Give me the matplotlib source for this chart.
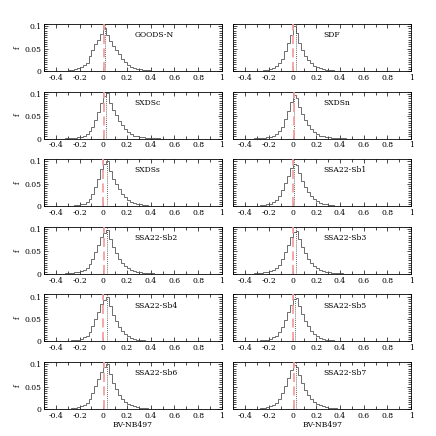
import numpy as np
import matplotlib
matplotlib.use("Agg")
import matplotlib.pyplot as plt
from matplotlib.ticker import MultipleLocator, FormatStrFormatter

plt.rcParams["font.family"] = "DejaVu Serif"
plt.rcParams["font.size"] = 5.5

# histogram bins: start at -0.4, width 0.025, 40 bins
bin_start = -0.4
bin_width = 0.025

fields = ["GOODS-N", "SDF", "SXDSc", "SXDSn", "SXDSs", "SSA22-Sb1",
          "SSA22-Sb2", "SSA22-Sb3", "SSA22-Sb4", "SSA22-Sb5", "SSA22-Sb6", "SSA22-Sb7"]

# red dashed / black dotted line positions per field
red_pos = [0.008, 0.000, 0.005, 0.010, 0.000, 0.000,
           0.005, 0.005, 0.000, 0.005, 0.005, 0.010]
dot_pos = [0.012, 0.030, 0.025, 0.012, 0.030, 0.012,
           0.030, 0.025, 0.035, 0.020, 0.035, 0.030]

goods_n = [0, 0, 0.0005, 0.001, 0.002, 0.003, 0.004, 0.006, 0.009, 0.013,
           0.019, 0.033, 0.048, 0.060, 0.070, 0.082,
           0.095, 0.080, 0.068, 0.057, 0.048, 0.038, 0.028, 0.020, 0.014, 0.010,
           0.007, 0.005, 0.004, 0.003, 0.002, 0.0015, 0.001, 0.001, 0.0005, 0.0005, 0, 0, 0, 0]
sdf = [0, 0, 0, 0.0005, 0.001, 0.001, 0.002, 0.003, 0.004, 0.006,
       0.012, 0.018, 0.028, 0.045, 0.062, 0.080,
       0.100, 0.086, 0.062, 0.047, 0.034, 0.024, 0.017, 0.012, 0.008, 0.006,
       0.004, 0.003, 0.002, 0.0015, 0.001, 0.001, 0.0005, 0.0005, 0, 0, 0, 0, 0, 0]
sxdsc = [0, 0, 0, 0.0005, 0.001, 0.001, 0.002, 0.003, 0.004, 0.006,
         0.010, 0.016, 0.026, 0.042, 0.060, 0.080,
         0.094, 0.101, 0.080, 0.063, 0.052, 0.040, 0.030, 0.022, 0.015, 0.010,
         0.007, 0.005, 0.004, 0.003, 0.002, 0.0015, 0.001, 0.0005, 0.0005, 0, 0, 0, 0, 0]
sxdsn = [0, 0, 0, 0.0005, 0.001, 0.001, 0.002, 0.003, 0.004, 0.006,
         0.011, 0.017, 0.027, 0.044, 0.062, 0.082,
         0.097, 0.090, 0.070, 0.054, 0.042, 0.030, 0.021, 0.015, 0.010, 0.007,
         0.005, 0.004, 0.003, 0.002, 0.0015, 0.001, 0.0005, 0.0005, 0, 0, 0, 0, 0, 0]
sxdss = [0, 0, 0.0005, 0.0005, 0.001, 0.001, 0.002, 0.003, 0.004, 0.006,
         0.010, 0.016, 0.027, 0.043, 0.061, 0.082,
         0.095, 0.100, 0.078, 0.061, 0.050, 0.038, 0.028, 0.020, 0.014, 0.010,
         0.007, 0.005, 0.004, 0.003, 0.002, 0.0015, 0.001, 0.001, 0.0005, 0.0005, 0, 0, 0, 0]
sb1 = [0, 0, 0.0005, 0.001, 0.001, 0.002, 0.003, 0.004, 0.006, 0.009,
       0.014, 0.022, 0.036, 0.052, 0.068, 0.086,
       0.094, 0.092, 0.074, 0.056, 0.043, 0.031, 0.022, 0.016, 0.011, 0.008,
       0.006, 0.004, 0.003, 0.002, 0.0015, 0.001, 0.001, 0.0005, 0.0005, 0, 0, 0, 0, 0]
sb2 = [0, 0, 0.0005, 0.001, 0.001, 0.002, 0.003, 0.004, 0.006, 0.009,
       0.013, 0.021, 0.033, 0.049, 0.065, 0.082,
       0.092, 0.098, 0.077, 0.059, 0.046, 0.034, 0.025, 0.018, 0.012, 0.008,
       0.006, 0.004, 0.003, 0.002, 0.0015, 0.001, 0.001, 0.0005, 0.0005, 0, 0, 0, 0, 0]
sb3 = [0, 0, 0.0005, 0.001, 0.001, 0.002, 0.003, 0.004, 0.006, 0.009,
       0.013, 0.020, 0.032, 0.048, 0.064, 0.081,
       0.093, 0.096, 0.078, 0.060, 0.046, 0.034, 0.025, 0.018, 0.012, 0.009,
       0.006, 0.004, 0.003, 0.002, 0.0015, 0.001, 0.001, 0.0005, 0.0005, 0, 0, 0, 0, 0]
sb4 = [0, 0, 0.0005, 0.001, 0.001, 0.002, 0.003, 0.004, 0.006, 0.009,
       0.013, 0.021, 0.034, 0.050, 0.066, 0.083,
       0.092, 0.099, 0.078, 0.059, 0.045, 0.033, 0.024, 0.017, 0.012, 0.008,
       0.006, 0.004, 0.003, 0.002, 0.0015, 0.001, 0.001, 0.0005, 0.0005, 0, 0, 0, 0, 0]
sb5 = [0, 0, 0.0005, 0.001, 0.001, 0.002, 0.003, 0.004, 0.006, 0.009,
       0.013, 0.020, 0.032, 0.048, 0.065, 0.082,
       0.094, 0.097, 0.078, 0.060, 0.046, 0.034, 0.024, 0.017, 0.012, 0.008,
       0.006, 0.004, 0.003, 0.002, 0.0015, 0.001, 0.001, 0.0005, 0.0005, 0, 0, 0, 0, 0]
sb6 = [0, 0, 0.0005, 0.001, 0.001, 0.002, 0.003, 0.004, 0.006, 0.009,
       0.014, 0.022, 0.035, 0.051, 0.067, 0.083,
       0.093, 0.100, 0.077, 0.058, 0.044, 0.032, 0.023, 0.016, 0.011, 0.008,
       0.006, 0.004, 0.003, 0.002, 0.0015, 0.001, 0.001, 0.0005, 0.0005, 0, 0, 0, 0, 0]
sb7 = [0, 0, 0.0005, 0.001, 0.001, 0.002, 0.003, 0.004, 0.006, 0.009,
       0.014, 0.022, 0.035, 0.052, 0.069, 0.086,
       0.097, 0.094, 0.075, 0.057, 0.043, 0.031, 0.022, 0.016, 0.011, 0.008,
       0.006, 0.004, 0.003, 0.002, 0.0015, 0.001, 0.001, 0.0005, 0.0005, 0, 0, 0, 0, 0]

hists = [goods_n, sdf, sxdsc, sxdsn, sxdss, sb1, sb2, sb3, sb4, sb5, sb6, sb7]

fig = plt.figure(figsize=(4.36, 4.36), dpi=100)

col_left = [0.101, 0.535]
ax_w = 0.408
ax_h = 0.108
row_step = 0.155
top_bottom = 0.837

for i, name in enumerate(fields):
    r, c = divmod(i, 2)
    ax = fig.add_axes([col_left[c], top_bottom - r * row_step, ax_w, ax_h])
    vals = np.array(hists[i])
    edges = bin_start + bin_width * np.arange(len(vals) + 1)
    ax.stairs(vals, edges, color="#555555", linewidth=0.6, zorder=2)
    ax.axvline(dot_pos[i], color="#333333", linestyle=(0, (1, 1.5)), linewidth=0.6, zorder=3)
    ax.axvline(red_pos[i], color="#f4a0a0", linestyle=(0, (5, 2.5)), linewidth=1.3, zorder=4)
    ax.set_xlim(-0.5, 1.0)
    ax.set_ylim(0, 0.105)
    ax.xaxis.set_major_locator(MultipleLocator(0.2))
    ax.xaxis.set_minor_locator(MultipleLocator(0.1))
    ax.yaxis.set_major_locator(MultipleLocator(0.05))
    ax.yaxis.set_minor_locator(MultipleLocator(0.005))
    ax.xaxis.set_major_formatter(FormatStrFormatter("%g"))
    ax.yaxis.set_major_formatter(FormatStrFormatter("%g"))
    ax.tick_params(which="both", direction="in", top=True, right=True,
                   width=0.5, labelsize=5.5, pad=2)
    ax.tick_params(which="major", length=3)
    ax.tick_params(which="minor", length=2)
    for sp in ax.spines.values():
        sp.set_linewidth(0.6)
    ax.text(0.26, 0.08, name, fontsize=5.5, va="center", ha="left")
    if c == 0:
        ax.set_ylabel("f", fontsize=5.5, labelpad=2)
    else:
        ax.tick_params(labelleft=False)
    if r == 5:
        ax.set_xlabel("BV-NB497", fontsize=5.5, labelpad=1)

fig.savefig("out.png", dpi=100)
